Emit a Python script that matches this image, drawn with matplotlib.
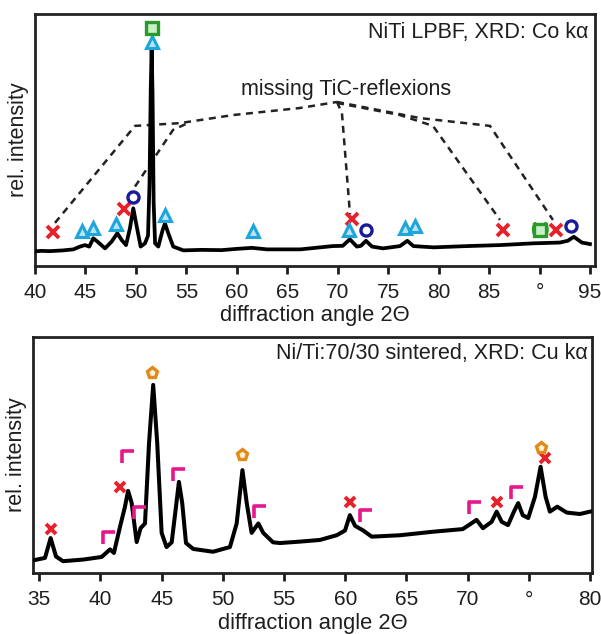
import matplotlib
matplotlib.use("Agg")
import matplotlib.pyplot as plt
from matplotlib.path import Path

plt.rcParams['font.family'] = ['Liberation Sans', 'DejaVu Sans']

# ---------------- data: top panel (NiTi LPBF, Co k-alpha) ----------------
top_x = [40.0, 40.6, 41.5, 42.8, 43.8, 44.46, 44.95, 45.38, 45.78, 46.27, 46.94, 47.6,
         48.16, 48.59, 49.02, 49.41, 49.74, 50.08, 50.47, 50.9, 51.2, 51.35, 51.47, 51.56,
         51.65, 51.76, 51.9, 52.22, 52.65, 52.88, 53.21, 53.7, 54.7, 56.5, 58.5, 60.0,
         61.5, 63.0, 66.3, 69.5, 70.5, 71.2, 71.9, 72.3, 72.8, 73.4, 74.5, 76.17, 76.9,
         77.5, 79.5, 82.8, 86.1, 89.4, 92.0, 92.8, 93.4, 94.2, 95.0]
top_y = [0.058, 0.060, 0.059, 0.062, 0.066, 0.077, 0.083, 0.077, 0.110, 0.094, 0.070, 0.097,
         0.130, 0.103, 0.083, 0.150, 0.229, 0.157, 0.077, 0.090, 0.120, 0.330, 0.700, 0.870,
         0.680, 0.250, 0.090, 0.077, 0.143, 0.169, 0.130, 0.077, 0.062, 0.064, 0.063, 0.068,
         0.072, 0.066, 0.066, 0.079, 0.080, 0.106, 0.077, 0.080, 0.100, 0.077, 0.070, 0.079, 0.100,
         0.079, 0.074, 0.079, 0.083, 0.090, 0.093, 0.100, 0.116, 0.093, 0.087]

top_cross_x = [41.8, 48.8, 71.4, 86.4, 91.6]
top_cross_y = [0.136, 0.225, 0.186, 0.143, 0.141]
top_tri_x = [44.7, 45.7, 48.03, 51.6, 52.88, 61.6, 71.1, 76.7, 77.7]
top_tri_y = [0.140, 0.152, 0.165, 0.890, 0.202, 0.140, 0.143, 0.150, 0.157]
top_circ_x = [49.74, 72.8, 93.1]
top_circ_y = [0.272, 0.143, 0.159]
top_sq_x = [51.6, 90.04]
top_sq_y = [0.944, 0.143]

# leader lines to "missing TiC-reflexions"
lead_a_x = [41.98, 49.91, 54.37, 59.62, 66.26, 69.93]
lead_a_y = [0.171, 0.556, 0.567, 0.599, 0.627, 0.651]
lead_b_x = [49.22, 53.68, 55.36]
lead_b_y = [0.274, 0.540, 0.571]
lead_c_x = [69.93, 70.42, 71.22]
lead_c_y = [0.651, 0.607, 0.205]
lead_d_x = [69.93, 76.17, 79.44, 86.08]
lead_d_y = [0.647, 0.599, 0.556, 0.183]
lead_e_x = [69.93, 78.15, 85.09, 91.33]
lead_e_y = [0.651, 0.587, 0.556, 0.183]

top_ticks = [40, 45, 50, 55, 60, 65, 70, 75, 80, 85, 90, 95]
top_ticklabels = ['40', '45', '50', '55', '60', '65', '70', '75', '80', '85', '°', '95']

# ---------------- data: bottom panel (Ni/Ti 70/30 sintered, Cu k-alpha) ----------------
bot_x = [34.65, 35.47, 35.93, 36.37, 36.94, 38.6, 40.1, 40.78, 41.1, 41.6, 42.0, 42.26,
         42.55, 42.96, 43.28, 43.64, 43.97, 44.31, 44.64, 45.0, 45.4, 45.82, 46.14, 46.41,
         46.68, 46.99, 47.58, 49.2, 50.58, 51.13, 51.6, 51.95, 52.35, 52.9, 53.3, 54.1,
         54.67, 56.3, 57.93, 59.3, 59.98, 60.38, 60.8, 61.47, 62.16, 64.47, 67.2, 69.6,
         70.73, 71.25, 71.96, 72.37, 72.78, 73.3, 73.78, 74.13, 74.5, 74.95, 75.5, 75.96,
         76.37, 76.72, 77.32, 78.1, 79.17, 80.0]
bot_y = [0.055, 0.064, 0.148, 0.070, 0.050, 0.057, 0.068, 0.100, 0.085, 0.196, 0.280, 0.348,
         0.297, 0.131, 0.190, 0.210, 0.550, 0.797, 0.550, 0.170, 0.110, 0.130, 0.267, 0.386,
         0.297, 0.127, 0.102, 0.090, 0.110, 0.210, 0.436, 0.297, 0.170, 0.210, 0.170, 0.130,
         0.127, 0.133, 0.140, 0.160, 0.180, 0.245, 0.200, 0.180, 0.154, 0.160, 0.175, 0.186,
         0.225, 0.190, 0.217, 0.260, 0.217, 0.203, 0.260, 0.296, 0.245, 0.233, 0.323, 0.450,
         0.323, 0.260, 0.281, 0.256, 0.250, 0.260]

bot_cross_x = [35.93, 41.6, 60.38, 72.37, 76.3]
bot_cross_y = [0.185, 0.366, 0.302, 0.302, 0.486]
bot_pent_x = [44.18, 51.6, 75.96]
bot_pent_y = [0.846, 0.500, 0.528]
bot_gam_x = [40.7, 42.27, 43.23, 46.41, 53.0, 61.7, 70.6, 74.0]
bot_gam_y = [0.147, 0.490, 0.253, 0.415, 0.260, 0.241, 0.274, 0.338]

bot_ticks = [35, 40, 45, 50, 55, 60, 65, 70, 75, 80]
bot_ticklabels = ['35', '40', '45', '50', '55', '60', '65', '70', '°', '80']

# ---------------- styles ----------------
RED = '#e8202a'
CYAN = '#1ea6dc'
CYAN_FILL = '#b8e4f6'
NAVY = '#1a1a9a'
GREEN = '#2a9a2a'
ORANGE = '#e08a1a'
MAGENTA = '#e8188c'
FS = 15.5
FS_TICK = 15
FS_XLAB = 15.8
FS_YLAB = 15.5
TXT = '#1e1e1e'

gamma_marker = Path([(-1, -1), (-1, 1), (1, 1)],
                    [Path.MOVETO, Path.LINETO, Path.LINETO])

fig = plt.figure(figsize=(6.01, 6.34), dpi=100)
ax1 = fig.add_axes([35 / 601, 1 - 266 / 634, 560 / 601, 252 / 634])
ax2 = fig.add_axes([33 / 601, 1 - 573 / 634, 559 / 601, 236 / 634])


def style_axes(ax, ticks, labels, xlim, pad, labelpad):
    ax.set_xlim(*xlim)
    ax.set_ylim(0, 1)
    ax.set_xticks(ticks)
    ax.set_xticklabels(labels)
    ax.set_yticks([])
    for s in ax.spines.values():
        s.set_linewidth(2.0)
        s.set_color('#222222')
    ax.tick_params(axis='x', direction='out', length=5.5, width=2, labelsize=FS_TICK,
                   pad=pad, colors=TXT)
    ax.set_ylabel('rel. intensity', fontsize=FS_YLAB, labelpad=4, color=TXT)
    ax.set_xlabel('diffraction angle 2Θ', fontsize=FS_XLAB, labelpad=labelpad, color=TXT)


# ---- top panel ----
ax1.plot(top_x, top_y, color='black', lw=2.7, zorder=3)
for lx, ly in [(lead_a_x, lead_a_y), (lead_b_x, lead_b_y), (lead_c_x, lead_c_y),
               (lead_d_x, lead_d_y), (lead_e_x, lead_e_y)]:
    ax1.plot(lx, ly, color='#222222', lw=1.8, ls=(0, (2.8, 2.2)), zorder=2)
ax1.plot(top_cross_x, top_cross_y, ls='none', marker='x', ms=8, mew=2.8, color=RED, zorder=4)
ax1.plot(top_tri_x, top_tri_y, ls='none', marker='^', ms=8, mew=2.2, mec=CYAN,
         mfc=CYAN_FILL, zorder=4)
ax1.plot(top_circ_x, top_circ_y, ls='none', marker='o', ms=8, mew=2.4, mec=NAVY,
         mfc='white', zorder=4)
ax1.plot(top_sq_x, top_sq_y, ls='none', marker='s', ms=8, mew=2.4, mec=GREEN,
         mfc='#c8f0c8', zorder=4)
ax1.text(89.35, 0.143, '(', color=GREEN, fontsize=12, fontweight='bold',
         ha='center', va='center', zorder=4)
ax1.text(90.75, 0.143, ')', color=GREEN, fontsize=12, fontweight='bold',
         ha='center', va='center', zorder=4)
ax1.text(70.8, 0.70, 'missing TiC-reflexions', fontsize=FS, ha='center', va='center',
         color=TXT)
ax1.text(0.988, 0.925, 'NiTi LPBF, XRD: Co kα', transform=ax1.transAxes, fontsize=FS,
         ha='right', va='center', color=TXT)
style_axes(ax1, top_ticks, top_ticklabels, (40, 95.5), pad=6.5, labelpad=2.5)

# ---- bottom panel ----
ax2.plot(bot_x, bot_y, color='black', lw=2.9, zorder=3)
ax2.plot(bot_cross_x, bot_cross_y, ls='none', marker='x', ms=7, mew=2.8, color=RED, zorder=4)
ax2.plot(bot_pent_x, bot_pent_y, ls='none', marker='p', ms=8, mew=2.4, mec=ORANGE,
         mfc='#fff2d8', zorder=4)
ax2.plot(bot_gam_x, bot_gam_y, ls='none', marker=gamma_marker, ms=9, mew=2.6,
         mec=MAGENTA, mfc='none', zorder=4)
ax2.text(0.993, 0.93, 'Ni/Ti:70/30 sintered, XRD: Cu kα', transform=ax2.transAxes,
         fontsize=FS, ha='right', va='center', color=TXT)
style_axes(ax2, bot_ticks, bot_ticklabels, (34.49, 80.16), pad=7, labelpad=2.5)

fig.savefig('out.png', dpi=100)
